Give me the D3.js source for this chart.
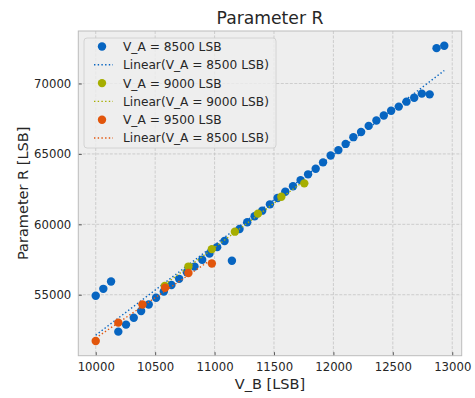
<!DOCTYPE html>
<html>
<head>
<meta charset="utf-8">
<script src="https://cdn.jsdelivr.net/npm/d3@7"></script>
<style>
  body { margin: 0; background: #fff; }
  text { font-family: "DejaVu Sans", sans-serif; fill: #262626; }
</style>
</head>
<body>
<div id="wrapper"></div>
<script>
// data
const seriesNames = ["V_A = 8500 LSB", "V_A = 9000 LSB", "V_A = 9500 LSB"];
const fitNames = ["Linear(V_A = 8500 LSB)", "Linear(V_A = 9000 LSB)", "Linear(V_A = 8500 LSB)"];
const colors = ["#0765c1", "#a6ae00", "#e2560c"];

const xA = [10000, 10064, 10129, 10190, 10255, 10320, 10382, 10446, 10508, 10573,
            10637, 10702, 10767, 10831, 10896, 10957, 11022, 11084, 11146, 11210,
            11275, 11337, 11401, 11466, 11530, 11595, 11660, 11724, 11787, 11851,
            11913, 11977, 12042, 12103, 12168, 12233, 12297, 12362, 12424, 12486,
            12550, 12615, 12680, 12744, 12810, 12868, 12933];
const yA = [54930, 55420, 55940, 52380, 52880, 53370, 53850, 54310, 54790, 55230,
            55690, 56130, 56600, 57000, 57480, 57920, 58380, 58820, 57410, 59670,
            60150, 60570, 60970, 61420, 61870, 62310, 62700, 63140, 63550, 63950,
            64400, 64890, 65270, 65710, 66190, 66560, 66990, 67370, 67730, 68060,
            68360, 68710, 68990, 69280, 69230, 72510, 72680];

const xB = [10581, 10780, 10977, 11171, 11365, 11562, 11755];
const yB = [55620, 57000, 58240, 59480, 60760, 61960, 62910];

const xC = [10000, 10190, 10393, 10584, 10780, 10977];
const yC = [51720, 53020, 54310, 55500, 56540, 57220];

const xTicks = [10000, 10500, 11000, 11500, 12000, 12500, 13000];
const yTicks = [55000, 60000, 65000, 70000];

const series = [[xA, yA], [xB, yB], [xC, yC]].map(([xs, ys], i) => ({
  name: seriesNames[i], fitName: fitNames[i], color: colors[i],
  points: xs.map((x, j) => [x, ys[j]])
}));

// least squares fit, like the spreadsheet trendline
function linearFit(pts) {
  const mx = d3.mean(pts, d => d[0]), my = d3.mean(pts, d => d[1]);
  const sxy = d3.sum(pts, d => (d[0] - mx) * (d[1] - my));
  const sxx = d3.sum(pts, d => (d[0] - mx) ** 2);
  const b = sxy / sxx, a = my - b * mx;
  const [x0, x1] = d3.extent(pts, d => d[0]);
  return [[x0, a + b * x0], [x1, a + b * x1]];
}

// dimensions
const width = 475, height = 398;
const margin = { top: 31, right: 13.3, bottom: 42.3, left: 78.3 };
const innerW = width - margin.left - margin.right;
const innerH = height - margin.top - margin.bottom;

const svg = d3.select("#wrapper").append("svg")
  .attr("width", width).attr("height", height);

const g = svg.append("g").attr("transform", `translate(${margin.left},${margin.top})`);

// scales, with 5% padding like matplotlib
const allPts = series.flatMap(s => s.points);
const xExt = d3.extent(allPts, d => d[0]), yExt = d3.extent(allPts, d => d[1]);
const xPad = (xExt[1] - xExt[0]) * 0.05, yPad = (yExt[1] - yExt[0]) * 0.05;
const x = d3.scaleLinear().domain([xExt[0] - xPad, xExt[1] + xPad]).range([0, innerW]);
const y = d3.scaleLinear().domain([yExt[0] - yPad, yExt[1] + yPad]).range([innerH, 0]);

g.append("rect").attr("width", innerW).attr("height", innerH).attr("fill", "#eeeeee");

// grid
g.append("g").selectAll("line").data(xTicks).join("line")
  .attr("x1", d => x(d)).attr("x2", d => x(d)).attr("y1", 0).attr("y2", innerH)
  .attr("stroke", "#c4c4c4").attr("stroke-width", 0.8).attr("stroke-dasharray", "3,1.5");
g.append("g").selectAll("line").data(yTicks).join("line")
  .attr("y1", d => y(d)).attr("y2", d => y(d)).attr("x1", 0).attr("x2", innerW)
  .attr("stroke", "#c4c4c4").attr("stroke-width", 0.8).attr("stroke-dasharray", "3,1.5");

// axes
const xAxis = g.append("g").attr("transform", `translate(0,${innerH})`)
  .call(d3.axisBottom(x).tickValues(xTicks).tickSize(-3.5).tickPadding(7).tickFormat(d3.format("d")));
const yAxis = g.append("g")
  .call(d3.axisLeft(y).tickValues(yTicks).tickSize(-3.5).tickPadding(7).tickFormat(d3.format("d")));
[xAxis, yAxis].forEach(a => {
  a.select(".domain").remove();
  a.selectAll(".tick line").attr("stroke", "#333").attr("stroke-width", 0.8);
  a.selectAll(".tick text").attr("font-size", 11.7).attr("font-family", "DejaVu Sans").attr("fill", "#262626");
});

g.append("rect").attr("width", innerW).attr("height", innerH)
  .attr("fill", "none").attr("stroke", "#bcbcbc").attr("stroke-width", 1);

// marks
const clip = svg.append("defs").append("clipPath").attr("id", "plot-clip")
  .append("rect").attr("width", innerW).attr("height", innerH);
const marks = g.append("g").attr("clip-path", "url(#plot-clip)");

series.forEach(s => {
  marks.append("g").selectAll("circle").data(s.points).join("circle")
    .attr("cx", d => x(d[0])).attr("cy", d => y(d[1])).attr("r", 4.2)
    .attr("fill", s.color);
  marks.append("path").datum(linearFit(s.points))
    .attr("d", d3.line().x(d => x(d[0])).y(d => y(d[1])))
    .attr("fill", "none").attr("stroke", s.color).attr("stroke-width", 1.4)
    .attr("stroke-dasharray", "1.4,2.3");
});

// titles
svg.append("text").attr("x", margin.left + innerW / 2).attr("y", 24)
  .attr("text-anchor", "middle").attr("font-size", 17.2).text("Parameter R");
svg.append("text").attr("x", margin.left + innerW / 2).attr("y", 389)
  .attr("text-anchor", "middle").attr("font-size", 14.5).text("V_B [LSB]");
svg.append("text").attr("transform", `translate(28,${margin.top + innerH / 2}) rotate(-90)`)
  .attr("text-anchor", "middle").attr("font-size", 14.5).text("Parameter R [LSB]");

// legend
const legendEntries = series.flatMap(s => [
  { type: "dot", label: s.name, color: s.color },
  { type: "line", label: s.fitName, color: s.color }
]);
const legend = svg.append("g").attr("transform", "translate(84,38)");
legend.append("rect").attr("width", 192).attr("height", 110).attr("rx", 3)
  .attr("fill", "#eeeeee").attr("fill-opacity", 0.8).attr("stroke", "#cccccc").attr("stroke-width", 0.8);
const rows = legend.selectAll("g.row").data(legendEntries).join("g")
  .attr("class", "row").attr("transform", (d, i) => `translate(0,${8.5 + i * 18.3})`);
rows.filter(d => d.type === "dot").append("circle")
  .attr("cx", 18).attr("cy", 0).attr("r", 4.2).attr("fill", d => d.color);
rows.filter(d => d.type === "line").append("line")
  .attr("x1", 10).attr("x2", 29).attr("y1", 0).attr("y2", 0)
  .attr("stroke", d => d.color).attr("stroke-width", 1.4).attr("stroke-dasharray", "1.4,2.3");
rows.append("text").attr("x", 39).attr("y", 0).attr("dy", "0.36em")
  .attr("font-size", 12.2).text(d => d.label);
</script>
</body>
</html>
